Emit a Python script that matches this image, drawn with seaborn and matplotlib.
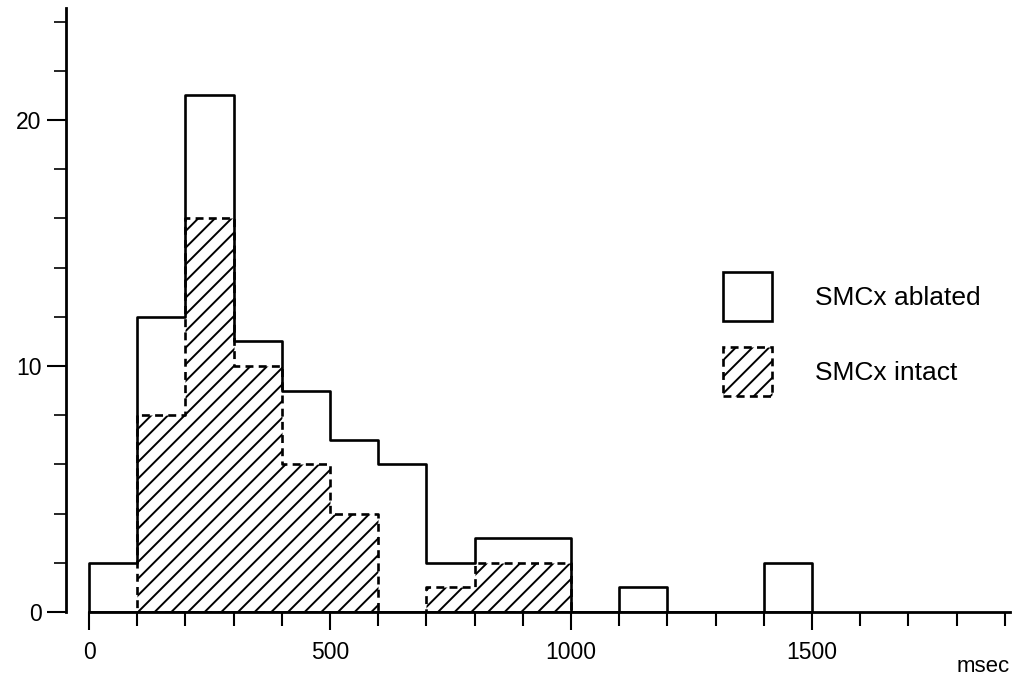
import numpy as np
import pandas as pd
import matplotlib
matplotlib.use("Agg")
import matplotlib.pyplot as plt
import matplotlib.patches as mpatches
from matplotlib.ticker import MultipleLocator, FixedLocator
import seaborn as sns

# ---- data ----
bin_width = 100
ablated_bin_starts = [0, 100, 200, 300, 400, 500, 600, 700, 800, 900, 1000, 1100, 1200, 1300, 1400]
ablated_counts = [2, 12, 21, 11, 9, 7, 6, 2, 3, 3, 0, 1, 0, 0, 2]
intact_bin_starts = [100, 200, 300, 400, 500, 600, 700, 800, 900]
intact_counts = [8, 16, 10, 6, 4, 0, 1, 2, 2]
x_tick_labels = [0, 500, 1000, 1500]
y_tick_labels = [0, 10, 20]
legend_labels = ["SMCx ablated", "SMCx intact"]
x_unit = "msec"

sns.set_theme(style="white")
plt.rcParams["font.family"] = ["Liberation Sans", "DejaVu Sans"]
plt.rcParams["hatch.linewidth"] = 1.4
plt.rcParams["hatch.color"] = "black"

W, H = 1021, 682
fig = plt.figure(figsize=(W / 100, H / 100), dpi=100)
fig.patch.set_facecolor("white")

# axes placement in pixels
spine_x_px = 66
right_px = 1010
top_px = 8
zero_px = 612
ax = fig.add_axes([spine_x_px / W, 1 - zero_px / H, (right_px - spine_x_px) / W, (zero_px - top_px) / H])
ax.set_facecolor("white")

px_per_msec = 0.482
px_per_count = 24.6
x0_px = 89
xlim_left = (spine_x_px - x0_px) / px_per_msec
xlim_right = (right_px - x0_px) / px_per_msec
ylim_top = (zero_px - top_px) / px_per_count

df_ab = pd.DataFrame({"t": np.array(ablated_bin_starts) + bin_width / 2, "n": ablated_counts})
df_in = pd.DataFrame({"t": np.array(intact_bin_starts) + bin_width / 2, "n": intact_counts})
ab_edges = list(ablated_bin_starts) + [ablated_bin_starts[-1] + bin_width]
in_edges = list(intact_bin_starts) + [intact_bin_starts[-1] + bin_width]

lw = 1.9
sns.histplot(data=df_in, x="t", weights="n", bins=in_edges, element="step", fill=True,
             color="black", facecolor="white", edgecolor="black", hatch="//", linewidth=lw,
             linestyle=(0, (3, 2)), ax=ax, zorder=2)
sns.histplot(data=df_ab, x="t", weights="n", bins=ab_edges, element="step", fill=True,
             color="black", facecolor=(1, 1, 1, 0), edgecolor="black", linewidth=lw, ax=ax, zorder=3)

ax.set_xlim(xlim_left, xlim_right)
ax.set_ylim(0, ylim_top)
ax.set_xlabel("")
ax.set_ylabel("")

for s in ["top", "right"]:
    ax.spines[s].set_visible(False)
ax.spines["left"].set_linewidth(2.0)
ax.spines["bottom"].set_linewidth(2.0)
ax.spines["left"].set_color("black")
ax.spines["bottom"].set_color("black")
ax.spines["bottom"].set_bounds(0, xlim_right)
ax.spines["left"].set_bounds(0, ylim_top)

ax.xaxis.set_major_locator(FixedLocator(x_tick_labels))
ax.xaxis.set_minor_locator(MultipleLocator(100))
ax.yaxis.set_major_locator(FixedLocator(y_tick_labels))
ax.yaxis.set_minor_locator(MultipleLocator(2))
ax.set_xticklabels([str(v) for v in x_tick_labels])
ax.set_yticklabels([str(v) for v in y_tick_labels])

ax.tick_params(axis="x", which="major", direction="out", length=13, width=1.5, color="black",
               labelsize=16.5, pad=8, bottom=True)
ax.tick_params(axis="x", which="minor", direction="out", length=10, width=1.5, color="black",
               bottom=True)
ax.tick_params(axis="y", which="major", direction="out", length=14, width=1.5, color="black",
               labelsize=16.5, pad=3.5, left=True)
ax.tick_params(axis="y", which="minor", direction="out", length=9, width=1.2, color="black",
               left=True)
for lab in ax.get_xticklabels() + ax.get_yticklabels():
    lab.set_color("black")

fig.text(right_px / W, 1 - 667 / H, x_unit, ha="right", va="center", fontsize=16, color="black")

leg_fs = 19
fs_px = leg_fs * 100 / 72
box_px = 49
hh = (box_px / fs_px - 0.245) / 0.65
handles = [
    mpatches.Patch(facecolor="white", edgecolor="black", linewidth=lw, label=legend_labels[0]),
    mpatches.Patch(facecolor="white", edgecolor="black", linewidth=lw, hatch="//",
                   linestyle=(0, (3, 2)), label=legend_labels[1]),
]
leg = ax.legend(handles=handles, loc="upper left", bbox_to_anchor=(723 / W, 1 - 272 / H),
                bbox_transform=fig.transFigure, frameon=False, fontsize=leg_fs,
                handlelength=box_px / fs_px, handleheight=hh, labelspacing=26 / fs_px,
                handletextpad=43 / fs_px, borderpad=0, borderaxespad=0)
for t in leg.get_texts():
    t.set_color("black")

fig.savefig("out.png", dpi=100, facecolor="white")
